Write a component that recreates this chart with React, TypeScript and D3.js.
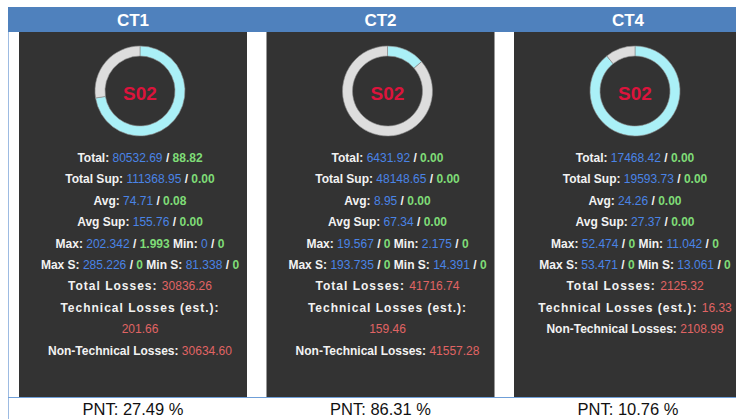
import React from "react";
import * as d3 from "d3";

const circuits = ["CT1", "CT2", "CT4"];
const centerLabels = ["S02", "S02", "S02"];
const total = ["80532.69", "6431.92", "17468.42"];
const totalB = ["88.82", "0.00", "0.00"];
const totalSup = ["111368.95", "48148.65", "19593.73"];
const totalSupB = ["0.00", "0.00", "0.00"];
const avg = ["74.71", "8.95", "24.26"];
const avgB = ["0.08", "0.00", "0.00"];
const avgSup = ["155.76", "67.34", "27.37"];
const avgSupB = ["0.00", "0.00", "0.00"];
const maxA = ["202.342", "19.567", "52.474"];
const maxB = ["1.993", "0", "0"];
const minA = ["0", "2.175", "11.042"];
const minB = ["0", "0", "0"];
const maxS = ["285.226", "193.735", "53.471"];
const maxSB = ["0", "0", "0"];
const minS = ["81.338", "14.391", "13.061"];
const minSB = ["0", "0", "0"];
const totalLosses = ["30836.26", "41716.74", "2125.32"];
const techLosses = ["201.66", "159.46", "16.33"];
const nonTechLosses = ["30634.60", "41557.28", "2108.99"];
const pnt = [27.49, 86.31, 10.76];

const W = 736;
const H = 419;
const FONT = "'Liberation Sans', Arial, Helvetica, sans-serif";
const BLUE = "#4a84e6";
const GREEN = "#7fdc77";
const RED = "#e06464";
const LABEL = "#f2f2f2";

export default function App() {
  const x = d3.scaleBand<string>().domain(circuits).range([19, 742]).paddingInner(0.0788).paddingOuter(0);
  const pie = d3.pie<number>().sort(null).value((d) => d);
  const arc = d3.arc<d3.PieArcDatum<number>>().innerRadius(35).outerRadius(45);
  const lineY = d3.scaleLinear().domain([0, 1]).range([162, 183.4]);

  return (
    <svg width={W} height={H} style={{ position: "absolute", left: 0, top: 0, display: "block" }} fontFamily={FONT}>
      <rect x={0} y={0} width={W} height={H} fill="#ffffff" />
      <rect x={8} y={7} width={W - 8} height={25} fill="#4f81bd" />
      <line x1={8.5} y1={32} x2={8.5} y2={H} stroke="#9dbbe2" strokeWidth={1} />
      {circuits.map((c, i) => {
        const x0 = x(c)!;
        const bw = x.bandwidth();
        const cx = x0 + bw / 2;
        const tc = cx + 7;
        const arcs = pie([100 - pnt[i], pnt[i]]);
        const wrapTech = techLosses[i].length > 5;
        const bold = { fontWeight: 700, fill: LABEL } as const;
        const sp = { fontWeight: 700, fill: LABEL, letterSpacing: "1px" } as const;
        const rows: React.ReactNode[] = [
          <>
            <tspan {...bold}>Total: </tspan>
            <tspan fill={BLUE}>{total[i]}</tspan>
            <tspan {...bold}> / </tspan>
            <tspan fill={GREEN} fontWeight={700}>{totalB[i]}</tspan>
          </>,
          <>
            <tspan {...bold}>Total Sup: </tspan>
            <tspan fill={BLUE}>{totalSup[i]}</tspan>
            <tspan {...bold}> / </tspan>
            <tspan fill={GREEN} fontWeight={700}>{totalSupB[i]}</tspan>
          </>,
          <>
            <tspan {...bold}>Avg: </tspan>
            <tspan fill={BLUE}>{avg[i]}</tspan>
            <tspan {...bold}> / </tspan>
            <tspan fill={GREEN} fontWeight={700}>{avgB[i]}</tspan>
          </>,
          <>
            <tspan {...bold}>Avg Sup: </tspan>
            <tspan fill={BLUE}>{avgSup[i]}</tspan>
            <tspan {...bold}> / </tspan>
            <tspan fill={GREEN} fontWeight={700}>{avgSupB[i]}</tspan>
          </>,
          <>
            <tspan {...bold}>Max: </tspan>
            <tspan fill={BLUE}>{maxA[i]}</tspan>
            <tspan {...bold}> / </tspan>
            <tspan fill={GREEN} fontWeight={700}>{maxB[i]}</tspan>
            <tspan {...bold}> Min: </tspan>
            <tspan fill={BLUE}>{minA[i]}</tspan>
            <tspan {...bold}> / </tspan>
            <tspan fill={GREEN} fontWeight={700}>{minB[i]}</tspan>
          </>,
          <>
            <tspan {...bold}>Max S: </tspan>
            <tspan fill={BLUE}>{maxS[i]}</tspan>
            <tspan {...bold}> / </tspan>
            <tspan fill={GREEN} fontWeight={700}>{maxSB[i]}</tspan>
            <tspan {...bold}> Min S: </tspan>
            <tspan fill={BLUE}>{minS[i]}</tspan>
            <tspan {...bold}> / </tspan>
            <tspan fill={GREEN} fontWeight={700}>{minSB[i]}</tspan>
          </>,
          <>
            <tspan {...sp}>Total Losses: </tspan>
            <tspan fill={RED}>{totalLosses[i]}</tspan>
          </>,
        ];
        if (wrapTech) {
          rows.push(<tspan {...sp}>Technical Losses (est.):</tspan>);
          rows.push(<tspan fill={RED}>{techLosses[i]}</tspan>);
        } else {
          rows.push(
            <>
              <tspan {...sp}>Technical Losses (est.): </tspan>
              <tspan fill={RED}>{techLosses[i]}</tspan>
            </>
          );
        }
        rows.push(
          <>
            <tspan {...bold}>Non-Technical Losses: </tspan>
            <tspan fill={RED}>{nonTechLosses[i]}</tspan>
          </>
        );
        return (
          <g key={c}>
            <text x={cx} y={26} textAnchor="middle" fill="#ffffff" fontWeight={700} fontSize={17}>
              {c}
            </text>
            <rect x={x0} y={32} width={bw} height={365} fill="#333333" />
            <g transform={`translate(${tc},91)`}>
              {arcs.map((a, k) => (
                <path key={k} d={arc(a) || ""} fill={k === 0 ? "#aaf0f7" : "#dddddd"} stroke="#8a8a8a" strokeWidth={0.6} />
              ))}
              <text x={0} y={9} textAnchor="middle" fill="#dc143c" fontWeight={700} fontSize={19}>
                {centerLabels[i]}
              </text>
            </g>
            {rows.map((r, k) => (
              <text key={k} x={tc} y={lineY(k)} textAnchor="middle" fontSize={12} style={{ whiteSpace: "pre" }}>
                {r}
              </text>
            ))}
            <text x={cx} y={415} textAnchor="middle" fill="#111111" fontSize={16.5}>
              {`PNT: ${pnt[i].toFixed(2)} %`}
            </text>
          </g>
        );
      })}
      <line x1={8} y1={397.5} x2={W} y2={397.5} stroke="#6f9fd8" strokeWidth={1} />
    </svg>
  );
}
